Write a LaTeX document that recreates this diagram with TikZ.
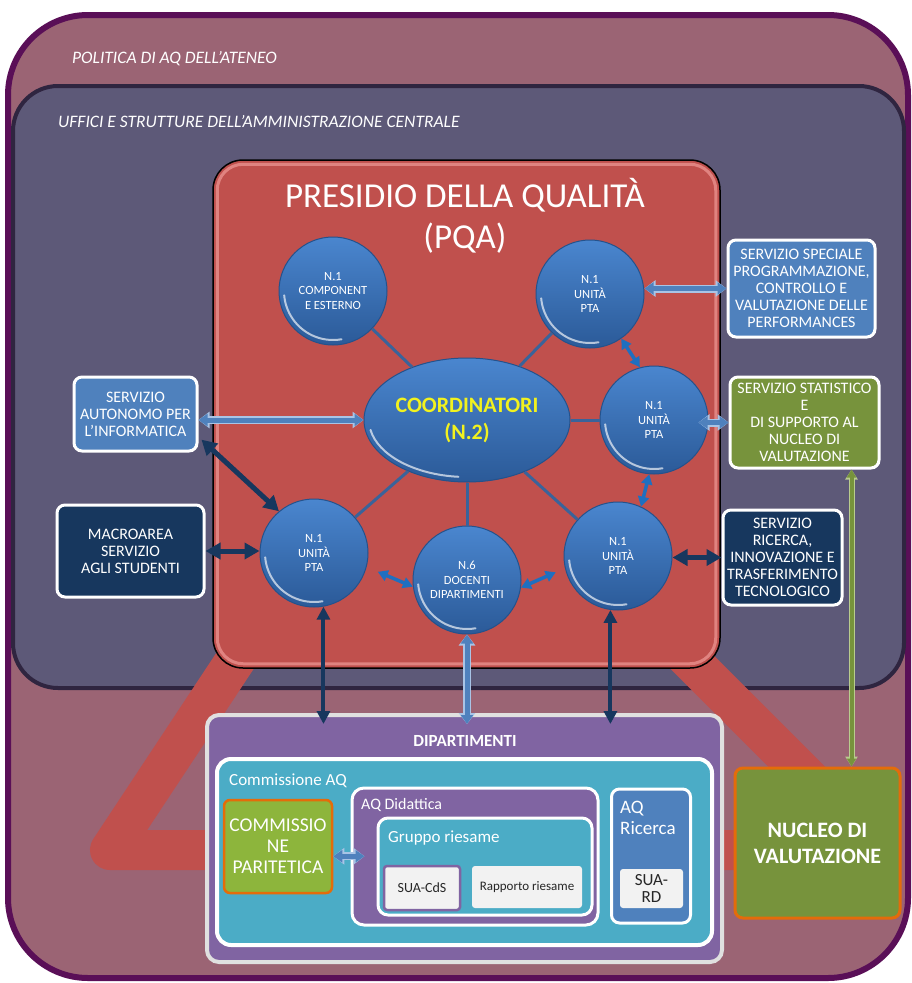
\documentclass[tikz,border=0pt]{standalone}
\usepackage{fontspec}
\setmainfont{Carlito}
\usetikzlibrary{arrows.meta,shapes.geometric,calc}
\definecolor{mauvefill}{HTML}{9B6474}
\definecolor{mauveedge}{HTML}{5A0F57}
\definecolor{slatefill}{HTML}{5D5978}
\definecolor{slateedge}{HTML}{2F2540}
\definecolor{pqared}{HTML}{C0504D}
\definecolor{pqaedge}{HTML}{E8908D}
\definecolor{balltop}{HTML}{4A86CF}
\definecolor{ballbot}{HTML}{2B5A98}
\definecolor{balledge}{HTML}{24528C}
\definecolor{midblue}{HTML}{4F81BD}
\definecolor{navyblue}{HTML}{17375E}
\definecolor{olivegreen}{HTML}{77933C}
\definecolor{olivelight}{HTML}{B9CC8E}
\definecolor{limegreen}{HTML}{8DB53C}
\definecolor{orangeedge}{HTML}{E46C0A}
\definecolor{purplefill}{HTML}{8064A2}
\definecolor{tealfill}{HTML}{4BACC6}
\definecolor{paperfill}{HTML}{F2F2F2}
\definecolor{linkblue}{HTML}{3A639A}
\definecolor{tipblue}{HTML}{1F6FC0}
\definecolor{yellowtxt}{HTML}{F2F21E}
\definecolor{lightedge}{HTML}{A9C4E6}
\definecolor{darktxt}{HTML}{262626}
\tikzset{
  frame/.style={rectangle, inner sep=0pt},
  framelabel/.style={text=white, font=\fontsize{17.5}{20}\selectfont\itshape, anchor=base west, inner sep=0pt},
  ball/.style={circle, minimum size=108pt, inner sep=0pt, top color=balltop, bottom color=ballbot,
    draw=balledge, line width=1pt, text=white, align=center, font=\fontsize{12.5}{14.5}\selectfont,
    path picture={\draw[white, opacity=.65, line width=2pt, line cap=round]
      ([shift={(185:49pt)}]path picture bounding box.center) arc[start angle=185, end angle=280, radius=49pt];}},
  coordell/.style={ellipse, minimum width=206pt, minimum height=124pt, inner sep=0pt, top color=balltop, bottom color=ballbot,
    draw=balledge, line width=1pt, text=yellowtxt, align=center, font=\fontsize{22}{27}\selectfont\bfseries,
    path picture={\draw[white, opacity=.65, line width=2pt, line cap=round]
      ([shift={(190:98pt and 57pt)}]path picture bounding box.center) arc[start angle=190, end angle=265, x radius=98pt, y radius=57pt];}},
  svc/.style={rectangle, rounded corners=8pt, draw=white, line width=3pt, text=white, align=center,
    font=\fontsize{16}{17}\selectfont, inner sep=1pt},
  link/.style={draw=linkblue, line width=3pt},
  navyarrow/.style={draw=navyblue, line width=5pt, {Triangle[length=15pt,width=16pt]}-{Triangle[length=15pt,width=16pt]}},
  navyvert/.style={draw=navyblue, line width=4pt, {Triangle[length=13pt,width=13pt]}-{Triangle[length=13pt,width=13pt]}},
  lightarrow/.style={draw=midblue, line width=5pt, {Triangle[length=9pt,width=12pt]}-{Triangle[length=9pt,width=12pt]},
    preaction={draw=lightedge, line width=8pt, {Triangle[length=11pt,width=16pt]}-{Triangle[length=11pt,width=16pt]}}},
  tiparrow/.style={draw=tipblue, line width=3.5pt, {Triangle[length=10pt,width=11pt]}-{Triangle[length=10pt,width=11pt]}},
  greenarrow/.style={draw=olivegreen, line width=4pt, {Triangle[length=8pt,width=9pt]}-{Triangle[length=8pt,width=9pt]},
    preaction={draw=olivelight, line width=6pt, {Triangle[length=10pt,width=12pt]}-{Triangle[length=10pt,width=12pt]}}},
  paperbox/.style={rectangle, rounded corners=3pt, fill=paperfill, text=darktxt, align=center, inner sep=1pt},
  sublabel/.style={text=white, anchor=base west, inner sep=0pt, align=left},
}
\begin{document}
\begin{tikzpicture}[x=1pt,y=-1pt]
\useasboundingbox (0,0) rectangle (911,983);
% outer frame
\node[frame, draw=mauveedge, fill=mauvefill, line width=6pt, rounded corners=80pt,
  minimum width=900pt, minimum height=963pt] (ateneo) at (458,496.5) {};
\node[framelabel] (ateneolbl) at (72,63) {POLITICA DI AQ DELL'ATENEO};
% inner frame
\node[frame, draw=slateedge, fill=slatefill, line width=4pt, rounded corners=45pt,
  minimum width=891pt, minimum height=602pt] (uffici) at (458.5,387) {};
\node[framelabel] (ufficilbl) at (58,127) {UFFICI E STRUTTURE DELL'AMMINISTRAZIONE CENTRALE};
% red band
\draw[line width=40pt, pqared, line join=round] (262,620) -- (110,850) -- (880,850) -- (650,620);
% PQA box
\node[frame, draw=black, fill=pqared, line width=1.5pt, rounded corners=30pt,
  minimum width=507pt, minimum height=508pt] (pqa) at (466.5,414) {};
\draw[pqaedge, line width=3pt, rounded corners=26pt, opacity=.8]
  ($(pqa.north west)+(5,5)$) rectangle ($(pqa.south east)+(-5,-5)$);
\node[text=white, align=center, font=\fontsize{35}{41}\selectfont] (pqatitle) at (465,216) {PRESIDIO DELLA QUALITÀ\\(PQA)};
% circles and ellipse
\node[coordell] (coord) at (467,420) {COORDINATORI\\(N.2)};
\node[ball] (c1) at (333,291) {N.1\\COMPONENT\\E ESTERNO};
\node[ball] (c2) at (590,294) {N.1\\UNITÀ\\PTA};
\node[ball] (c3) at (654,420) {N.1\\UNITÀ\\PTA};
\node[ball] (c4) at (618,556) {N.1\\UNITÀ\\PTA};
\node[ball] (c5) at (467,580) {N.6\\DOCENTI\\DIPARTIMENTI};
\node[ball] (c6) at (314,553) {N.1\\UNITÀ\\PTA};
\foreach \c in {c1,c2,c3,c4,c5,c6} \draw[link] (coord) -- (\c);
% small arrows between circles
\draw[tiparrow] (c2.-55) -- (c3.105);
\draw[tiparrow] (c3.-95) -- (c4.65);
\draw[tiparrow, shorten <=12pt] (c6.-15) -- (c5.187);
\draw[tiparrow, shorten >=10pt] (c5.-8) -- (c4.193);
% left service boxes
\node[svc, fill=midblue, minimum width=123pt, minimum height=74pt] (sai) at (135.5,414) {SERVIZIO\\AUTONOMO PER\\L'INFORMATICA};
\node[svc, fill=navyblue, minimum width=147pt, minimum height=92pt] (macro) at (130.5,551) {MACROAREA\\SERVIZIO\\AGLI STUDENTI};
% right service boxes
\node[svc, fill=midblue, minimum width=147pt, minimum height=97pt] (ssp) at (801.5,288.5) {SERVIZIO SPECIALE\\PROGRAMMAZIONE,\\CONTROLLO E\\VALUTAZIONE DELLE\\PERFORMANCES};
\node[svc, fill=olivegreen, minimum width=149pt, minimum height=91pt] (stat) at (804.5,422.5) {SERVIZIO STATISTICO\\E\\DI SUPPORTO AL\\NUCLEO DI\\VALUTAZIONE};
\node[svc, fill=navyblue, minimum width=119pt, minimum height=95pt] (ric) at (782.5,557.5) {SERVIZIO\\RICERCA,\\INNOVAZIONE E\\TRASFERIMENTO\\TECNOLOGICO};
% dipartimenti
\node[frame, draw=white!88!black, fill=purplefill, line width=4pt, rounded corners=12pt,
  minimum width=515pt, minimum height=247pt] (dip) at (464.5,838.5) {};
\node[text=white, font=\fontsize{17}{20}\selectfont\bfseries] (diplbl) at (465,741) {DIPARTIMENTI};
\node[frame, draw=white, fill=tealfill, line width=4pt, rounded corners=14pt,
  minimum width=495pt, minimum height=186pt] (caq) at (464.5,852) {};
\node[sublabel, font=\fontsize{17}{20}\selectfont] (caqlbl) at (229,785) {Commissione AQ};
\node[frame, draw=orangeedge, fill=limegreen, line width=2.5pt, rounded corners=6pt,
  minimum width=108pt, minimum height=93pt, text=white, align=center, font=\fontsize{19.5}{21}\selectfont] (par) at (278,846.5) {COMMISSIO\\NE\\PARITETICA};
\node[frame, draw=white, fill=purplefill, line width=3pt, rounded corners=12pt,
  minimum width=246pt, minimum height=137pt] (aqd) at (475,856.5) {};
\node[sublabel, font=\fontsize{16}{19}\selectfont] (aqdlbl) at (361,809) {AQ Didattica};
\node[frame, draw=white, fill=tealfill, line width=3pt, rounded corners=10pt,
  minimum width=214pt, minimum height=97pt] (grp) at (485,866.5) {};
\node[sublabel, font=\fontsize{17}{20}\selectfont] (grplbl) at (388,842) {Gruppo riesame};
\node[paperbox, draw=purplefill, line width=2.5pt, minimum width=76pt, minimum height=44pt, font=\fontsize{14}{16}\selectfont] (suacds) at (422,888) {SUA-CdS};
\node[paperbox, minimum width=110pt, minimum height=42pt, font=\fontsize{13}{16}\selectfont] (rapp) at (527,887) {Rapporto riesame};
\node[frame, draw=white, fill=midblue, line width=3pt, rounded corners=8pt,
  minimum width=79pt, minimum height=134pt] (aqr) at (651,856) {};
\node[sublabel, font=\fontsize{19}{21}\selectfont] (aqrlbl) at (620,834) {AQ\\Ricerca};
\node[paperbox, minimum width=63pt, minimum height=39pt, font=\fontsize{17}{17.5}\selectfont] (suard) at (651.5,888.5) {SUA-\\RD};
% nucleo
\node[frame, draw=orangeedge, fill=olivegreen, line width=3pt, rounded corners=8pt,
  minimum width=165pt, minimum height=150pt, text=white, align=center, font=\fontsize{22}{26}\selectfont\bfseries] (nuc) at (817.5,843) {NUCLEO DI\\VALUTAZIONE};
% connectors
\draw[lightarrow] (sai.east |- coord.west) -- (coord.west);
\draw[navyarrow, shorten <=4pt] (sai.-20) -- (c6.130);
\draw[navyarrow] (macro.east) -- (macro.east -| c6.west);
\draw[lightarrow] (ssp.west) -- (ssp.west -| c2.east);
\draw[lightarrow, shorten >=-10pt] (stat.west) -- (stat.west -| c3.east);
\draw[navyarrow] (ric.west) -- (ric.west -| c4.east);
\draw[greenarrow] (stat.-45) -- (stat.-45 |- nuc.north);
\draw[navyvert, shorten >=-11pt] (c6.-80) -- (c6.-80 |- dip.north);
\draw[lightarrow, shorten >=-11pt] (c5.south) -- (c5.south |- dip.north);
\draw[navyvert, shorten >=-11pt] (c4.-98) -- (c4.-98 |- dip.north);
\draw[lightarrow, shorten >=12pt] (par.-10) -- (par.-10 -| grp.west);
\end{tikzpicture}
\end{document}
